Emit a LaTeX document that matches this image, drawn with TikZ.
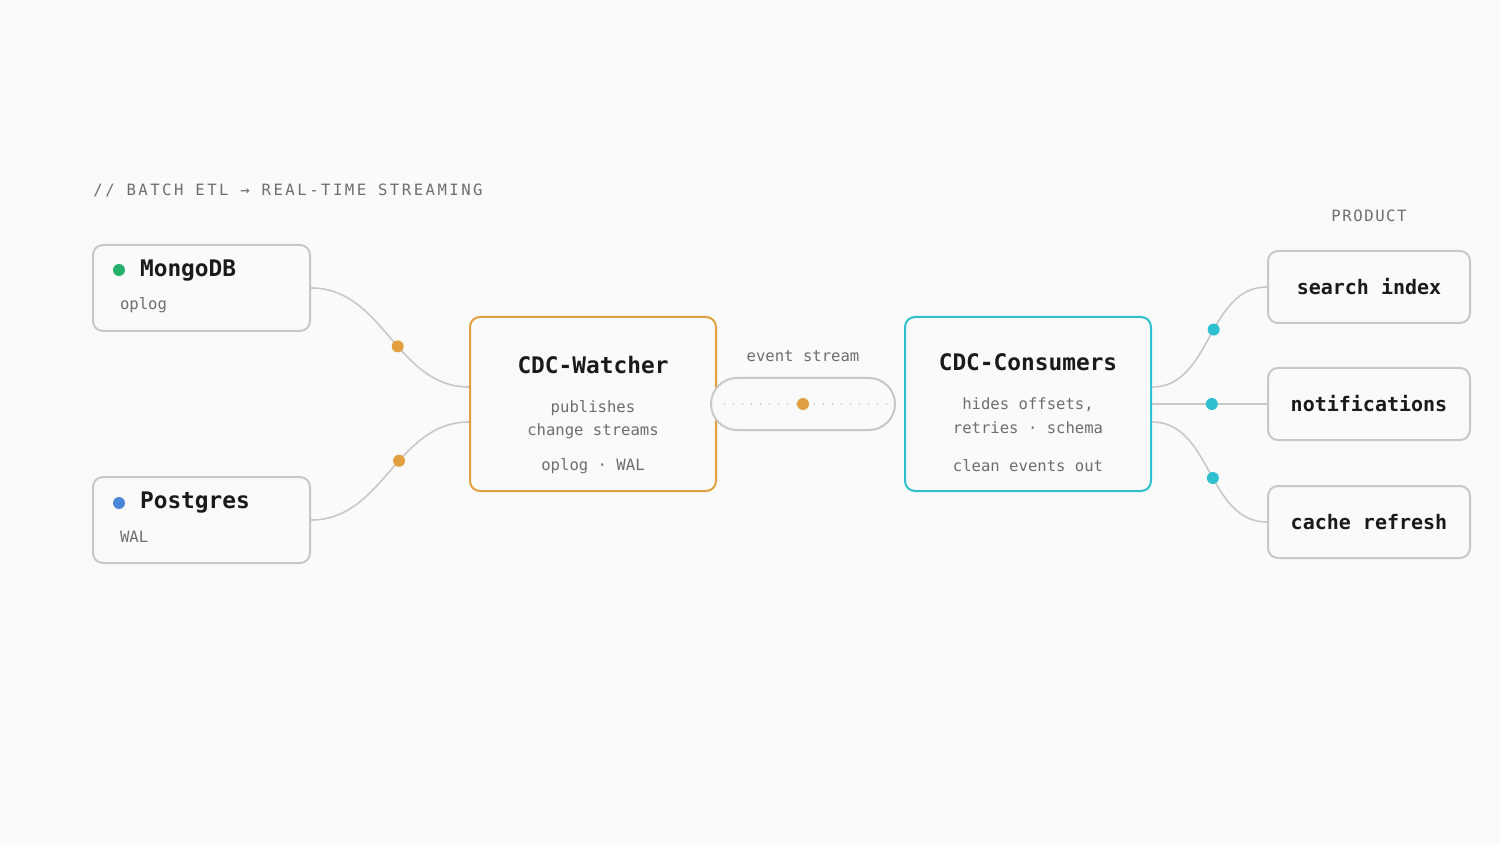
\documentclass[tikz,border=0pt]{standalone}
\usepackage{fontspec}
\setmainfont{DejaVu Sans Mono}
\setmonofont{DejaVu Sans Mono}
\usetikzlibrary{positioning, calc}
\definecolor{bg}{HTML}{FAFAFA}
\definecolor{edge}{HTML}{C8C8C8}
\definecolor{ink}{HTML}{1A1A1A}
\definecolor{muted}{HTML}{6E6E6E}
\definecolor{amber}{HTML}{E0A040}
\definecolor{teal}{HTML}{2EC0CF}
\definecolor{mgreen}{HTML}{22B06A}
\definecolor{pblue}{HTML}{4A86D8}
\tikzset{
    box/.style={draw=edge, line width=1pt, fill=bg, rounded corners=5pt, inner sep=0pt},
    title/.style={text=ink, font=\fontsize{11.4}{12}\selectfont\bfseries},
    small/.style={text=muted, font=\fontsize{7.8}{9}\selectfont},
    wire/.style={draw=edge, line width=0.8pt},
    blob/.style={circle, fill=#1, inner sep=0pt, minimum size=6pt},
}
\begin{document}
\begin{tikzpicture}[x=0.5pt, y=-0.5pt]
    \fill[bg] (0,0) rectangle (1500,845);
    \useasboundingbox (0,0) rectangle (1500,845);

    \node[small, anchor=west, inner sep=0pt, font=\fontsize{7.8}{9}\selectfont\addfontfeature{LetterSpace=16}] (head) at (93,190) {// BATCH ETL → REAL-TIME STREAMING};
    \node[small, font=\fontsize{7.8}{9}\selectfont\addfontfeature{LetterSpace=10}] (prod) at (1369,216) {PRODUCT};

    % sources
    \node[box, minimum width=108.5pt, minimum height=43pt] (mongo) at (201.5,288) {};
    \node[blob=mgreen] (mdot) at (119,270) {};
    \node[title, anchor=west] (mname) at (133,271) {MongoDB};
    \node[small, anchor=west] (mlog) at (113,305) {oplog};

    \node[box, minimum width=108.5pt, minimum height=43pt] (pg) at (201.5,520) {};
    \node[blob=pblue] (pdot) at (119,503) {};
    \node[title, anchor=west] (pname) at (133,503) {Postgres};
    \node[small, anchor=west] (plog) at (113,537) {WAL};

    % watcher
    \node[box, draw=amber, minimum width=123pt, minimum height=87pt] (watcher) at (593,404) {};
    \node[title] (wname) at (593,365) {CDC-Watcher};
    \node[small] (w1) at (593,408) {publishes};
    \node[small] (w2) at (593,431) {change streams};
    \node[small] (w3) at (593,466) {oplog · WAL};

    % pipe
    \node[box, rounded corners=13pt, minimum width=92pt, minimum height=26pt] (pipe) at (803,404) {};
    \node[small] (plabel) at (803,356) {event stream};
    \draw[edge, line width=0.7pt, dash pattern=on 0.5pt off 4pt] (724,404) -- (890,404);
    \node[blob=amber] (pdot2) at (803,404) {};

    % consumers
    \node[box, draw=teal, minimum width=123pt, minimum height=87pt] (cons) at (1028,404) {};
    \node[title] (cname) at (1028,362) {CDC-Consumers};
    \node[small] (c1) at (1028,405) {hides offsets,};
    \node[small] (c2) at (1028,428) {retries · schema};
    \node[small] (c3) at (1028,466) {clean events out};

    % products
    \foreach \name/\y/\label in {search/287/search index, notif/404/notifications, cache/522/cache refresh}{
        \node[box, minimum width=101pt, minimum height=36pt, title, font=\fontsize{10}{12}\selectfont\bfseries] (\name) at (1369,\y) {\label};
    }

    % wires
    \coordinate (win1) at ($(watcher.west)+(0,-17)$);
    \coordinate (win2) at ($(watcher.west)+(0,18)$);
    \coordinate (cout1) at ($(cons.east)+(0,-17)$);
    \coordinate (cout3) at ($(cons.east)+(0,18)$);
    \draw[wire] (mongo.east) to[out=0, in=180] node[pos=0.56, blob=amber] {} (win1);
    \draw[wire] (pg.east) to[out=0, in=180] node[pos=0.57, blob=amber] {} (win2);
    \draw[wire] (cout1) to[out=0, in=180] node[pos=0.55, blob=teal] {} (search.west);
    \draw[wire] (cons.east) -- node[pos=0.52, blob=teal] {} (notif.west);
    \draw[wire] (cout3) to[out=0, in=180] node[pos=0.54, blob=teal] {} (cache.west);
\end{tikzpicture}
\end{document}
